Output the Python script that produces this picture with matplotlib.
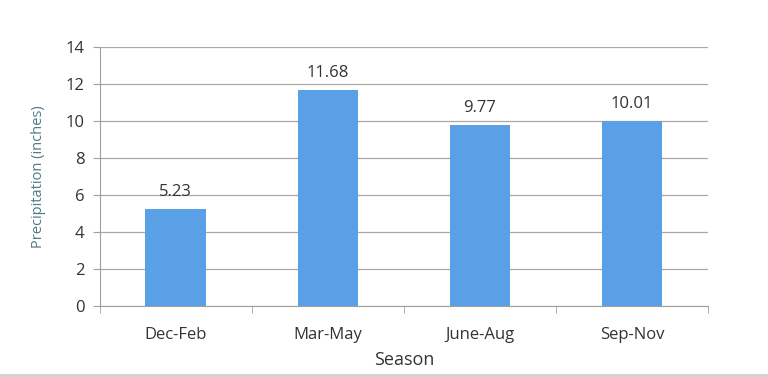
import matplotlib.pyplot as plt
from matplotlib.lines import Line2D

seasons = ['Dec-Feb', 'Mar-May', 'June-Aug', 'Sep-Nov']
precip = [5.23, 11.68, 9.77, 10.01]
yticks = [0, 2, 4, 6, 8, 10, 12, 14]

plt.rcParams['font.family'] = ['Open Sans', 'DejaVu Sans']

fig = plt.figure(figsize=(7.68, 3.77), dpi=100)
ax = fig.add_axes([0.130, 0.188, 0.792, 0.687])

x = range(len(seasons))
ax.bar(x, precip, width=0.4, color='#5aa0e6', zorder=3)
for i, v in zip(x, precip):
    ax.text(i, v + 0.5, f'{v:.2f}', ha='center', va='bottom', fontsize=12, color='#333333')

ax.set_xlim(-0.5, len(seasons) - 0.5)
ax.set_ylim(0, 14)
ax.set_yticks(yticks)
ax.set_xticks(x)
ax.set_xticklabels(seasons)
ax.set_xticks([i - 0.5 for i in range(len(seasons) + 1)], minor=True)
ax.tick_params(axis='x', which='major', length=0, pad=15, labelsize=12, labelcolor='#333333')
ax.tick_params(axis='x', which='minor', length=5, color='#a0a0a0', direction='out')
ax.tick_params(axis='y', length=5, color='#a0a0a0', pad=6, labelsize=12, labelcolor='#333333')
ax.grid(axis='y', color='#a8a8a8', linewidth=0.9, zorder=0)

for s in ['top', 'right']:
    ax.spines[s].set_visible(False)
for s in ['left', 'bottom']:
    ax.spines[s].set_color('#a0a0a0')

ax.set_xlabel('Season', fontsize=13, color='#333333', labelpad=6)
ax.set_ylabel('Precipitation (inches)', fontsize=10.5, color='#4f7a87', labelpad=14)

fig.add_artist(Line2D([0, 1], [1 - 375 / 377] * 2, color='#d0d0d0', linewidth=2))

plt.savefig('out.png', dpi=100)
